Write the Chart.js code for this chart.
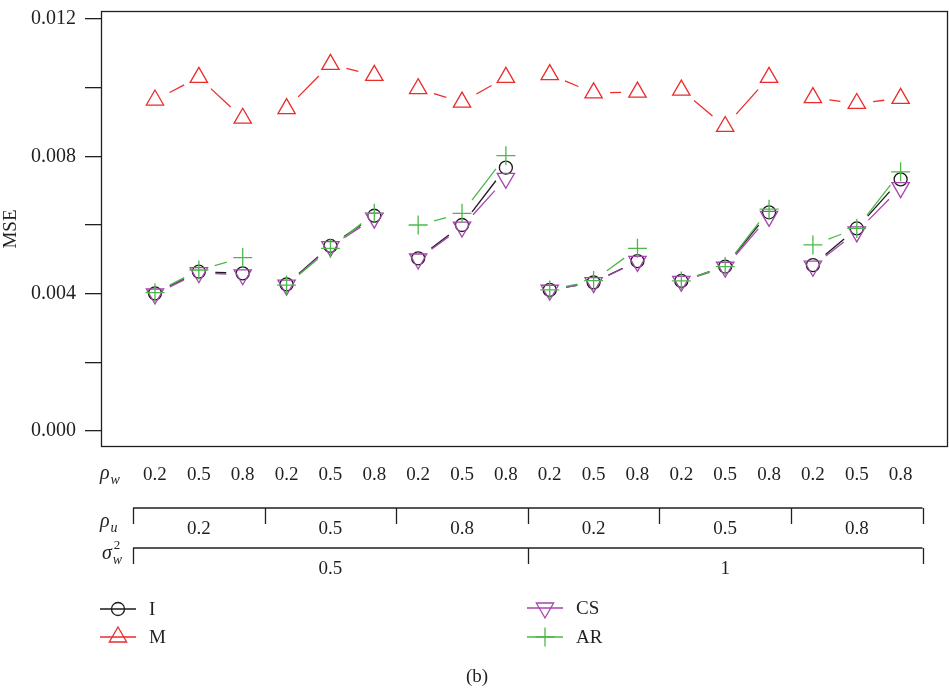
<!DOCTYPE html>
<html><head><meta charset="utf-8">
<script src="https://cdn.jsdelivr.net/npm/chart.js@4/dist/chart.umd.min.js"></script>
<style>html,body{margin:0;padding:0;background:#fff}canvas{display:block}</style>
</head><body>
<canvas id="c" width="949" height="695"></canvas>
<script>
// ---- data ----
const rhoW = ['0.2','0.5','0.8','0.2','0.5','0.8','0.2','0.5','0.8','0.2','0.5','0.8','0.2','0.5','0.8','0.2','0.5','0.8'];
const rhoU = ['0.2','0.5','0.8','0.2','0.5','0.8'];
const sigmaW2 = ['0.5','1'];
const seriesNames = ['I','M','CS','AR'];
const valuesI  = [0.00401,0.00464,0.00459,0.00427,0.00539,0.00627,0.00503,0.00600,0.00767,0.00411,0.00433,0.00495,0.00437,0.00479,0.00637,0.00483,0.00590,0.00733];
const valuesM  = [0.00964,0.01030,0.00911,0.00939,0.01068,0.01036,0.00997,0.00958,0.01030,0.01038,0.00985,0.00987,0.00993,0.00887,0.01030,0.00971,0.00954,0.00969];
const valuesCS = [0.00399,0.00461,0.00455,0.00425,0.00537,0.00620,0.00501,0.00594,0.00736,0.00410,0.00432,0.00494,0.00436,0.00477,0.00625,0.00480,0.00580,0.00709];
const valuesAR = [0.00403,0.00469,0.00505,0.00425,0.00532,0.00634,0.00600,0.00634,0.00802,0.00411,0.00438,0.00532,0.00437,0.00479,0.00646,0.00542,0.00590,0.00755];
const yTickValues = [0,0.002,0.004,0.006,0.008,0.010,0.012];
const yLabelled = [0,0.004,0.008,0.012];

const FONT = '"Liberation Serif","DejaVu Serif",serif';
const INK = '#231f20';
const colI = '#1a1a1a', colM = '#ec2b2b', colCS = '#a546ad', colAR = '#4cb84a';
const groupSize = rhoW.length / rhoU.length;

function pts(arr){ return arr.map((v,i)=>({x:i,y:v})); }

const styles = [
  {pointStyle:'circle', radius:6.5, rotation:0},
  {pointStyle:'triangle', radius:10, rotation:0},
  {pointStyle:'triangle', radius:10, rotation:180},
  {pointStyle:'cross', radius:9.5, rotation:0}
];
const cols = [colI,colM,colCS,colAR];
const vals = [valuesI,valuesM,valuesCS,valuesAR];
const orders = [3,2,1,0];

const datasets = seriesNames.map((n,k)=>({
  label:n, data:pts(vals[k]), showLine:false,
  borderColor:cols[k], backgroundColor:'rgba(0,0,0,0)',
  pointStyle:styles[k].pointStyle, pointRadius:styles[k].radius, pointRotation:styles[k].rotation,
  pointBorderWidth:1.3, pointHoverRadius:styles[k].radius, order:orders[k]
}));

// lines with gaps around markers (within each group)
const gapLines = {
  id:'gapLines',
  beforeDatasetsDraw(chart){
    const ctx = chart.ctx, a = chart.chartArea;
    ctx.save();
    ctx.beginPath(); ctx.rect(a.left,a.top,a.right-a.left,a.bottom-a.top); ctx.clip();
    chart.data.datasets.forEach((ds,di)=>{
      const meta = chart.getDatasetMeta(di);
      ctx.strokeStyle = ds.borderColor; ctx.lineWidth = 1.3;
      for(let i=0;i<meta.data.length-1;i++){
        if(Math.floor(i/groupSize)!==Math.floor((i+1)/groupSize)) continue;
        const p=meta.data[i], q=meta.data[i+1];
        const dx=q.x-p.x, dy=q.y-p.y, L=Math.hypot(dx,dy), g=16.5;
        if(L<=2*g) continue;
        const ux=dx/L, uy=dy/L;
        ctx.beginPath(); ctx.moveTo(p.x+ux*g,p.y+uy*g); ctx.lineTo(q.x-ux*g,q.y-uy*g); ctx.stroke();
      }
    });
    ctx.restore();
  }
};

function greek(ctx,x,y,main,sub,sup){
  ctx.textAlign='left'; ctx.textBaseline='alphabetic'; ctx.fillStyle=INK;
  ctx.font='italic 20px '+FONT;
  ctx.fillText(main,x,y);
  const w=ctx.measureText(main).width;
  ctx.font='italic 14px '+FONT;
  ctx.fillText(sub,x+w+1,y+5);
  if(sup){ ctx.font='13px '+FONT; ctx.fillText(sup,x+w+2,y-10); }
}

const decor = {
  id:'decor',
  afterDraw(chart){
    const ctx=chart.ctx, a=chart.chartArea, xs=chart.scales.x;
    ctx.save();
    // box
    ctx.strokeStyle=INK; ctx.lineWidth=1.3;
    ctx.strokeRect(a.left+0.5,a.top+0.5,a.right-a.left-1,a.bottom-a.top-1);
    // rho_w tick labels at the x-scale ticks
    ctx.fillStyle=INK; ctx.font='19px '+FONT; ctx.textAlign='center'; ctx.textBaseline='middle';
    xs.ticks.forEach((t,i)=>ctx.fillText(rhoW[i],xs.getPixelForValue(t.value),475));
    // rho_u brackets
    const nU=rhoU.length;
    const yU=508, yU2=524;
    ctx.beginPath();
    ctx.moveTo(xs.getPixelForValue(-0.5),yU); ctx.lineTo(xs.getPixelForValue(rhoW.length-0.5),yU);
    for(let k=0;k<=nU;k++){ const px=Math.round(xs.getPixelForValue(k*groupSize-0.5))+0.5; ctx.moveTo(px,yU); ctx.lineTo(px,yU2); }
    // sigma brackets
    const nS=sigmaW2.length, sSize=rhoW.length/nS;
    const yS=548, yS2=564;
    ctx.moveTo(xs.getPixelForValue(-0.5),yS); ctx.lineTo(xs.getPixelForValue(rhoW.length-0.5),yS);
    for(let k=0;k<=nS;k++){ const px=Math.round(xs.getPixelForValue(k*sSize-0.5))+0.5; ctx.moveTo(px,yS); ctx.lineTo(px,yS2); }
    ctx.stroke();
    rhoU.forEach((t,k)=>ctx.fillText(t,xs.getPixelForValue(k*groupSize+(groupSize-1)/2),529));
    sigmaW2.forEach((t,k)=>ctx.fillText(t,xs.getPixelForValue(k*sSize+(sSize-1)/2),569));
    // row labels
    greek(ctx,100,479,'ρ','w');
    greek(ctx,100,527,'ρ','u');
    greek(ctx,102,559,'σ','w','2');
    // legend
    const leg=[{k:0,x:100,y:609},{k:1,x:100,y:637},{k:2,x:527,y:608},{k:3,x:527,y:637}];
    leg.forEach(L=>{
      const st=styles[L.k];
      ctx.strokeStyle=cols[L.k]; ctx.fillStyle='rgba(0,0,0,0)'; ctx.lineWidth=1.3;
      ctx.beginPath(); ctx.moveTo(L.x,L.y); ctx.lineTo(L.x+36,L.y); ctx.stroke();
      Chart.helpers.drawPoint(ctx,{pointStyle:st.pointStyle,radius:st.radius,rotation:st.rotation,borderWidth:1.3},L.x+18,L.y);
      ctx.fillStyle=INK; ctx.font='19px '+FONT; ctx.textAlign='left'; ctx.textBaseline='middle';
      ctx.fillText(seriesNames[L.k],L.x+49,L.y+1);
    });
    ctx.textAlign='center'; ctx.fillStyle=INK;
    ctx.fillText('(b)',477,677);
    ctx.restore();
  }
};

new Chart(document.getElementById('c'),{
  type:'scatter',
  data:{datasets},
  plugins:[gapLines,decor],
  options:{
    responsive:false, animation:false, devicePixelRatio:1,
    layout:{autoPadding:false,padding:{top:11,right:1,left:0,bottom:0}},
    plugins:{legend:{display:false},tooltip:{enabled:false}},
    scales:{
      x:{type:'linear',position:'bottom',min:-1.231,max:18.08,
        afterBuildTicks:s=>{s.ticks=rhoW.map((_,i)=>({value:i}));},
        afterFit:s=>{s.height=248; s.paddingLeft=0; s.paddingRight=0;},
        grid:{display:false}, border:{display:false},
        ticks:{display:false}
      },
      y:{type:'linear',min:-0.000466,max:0.012233,
        afterBuildTicks:s=>{s.ticks=yTickValues.map(v=>({value:v}));},
        afterFit:s=>{s.width=101; s.paddingTop=0; s.paddingBottom=0;},
        grid:{display:true,drawOnChartArea:false,drawTicks:true,tickLength:16,color:INK,lineWidth:1.3},
        border:{display:false},
        ticks:{padding:9,color:INK,font:{family:FONT,size:20},
          callback:v=>yLabelled.some(t=>Math.abs(t-v)<1e-9)?v.toFixed(3):''},
        title:{display:true,text:'MSE',color:INK,font:{family:FONT,size:19},padding:0}
      }
    }
  }
});
</script>
</body></html>
